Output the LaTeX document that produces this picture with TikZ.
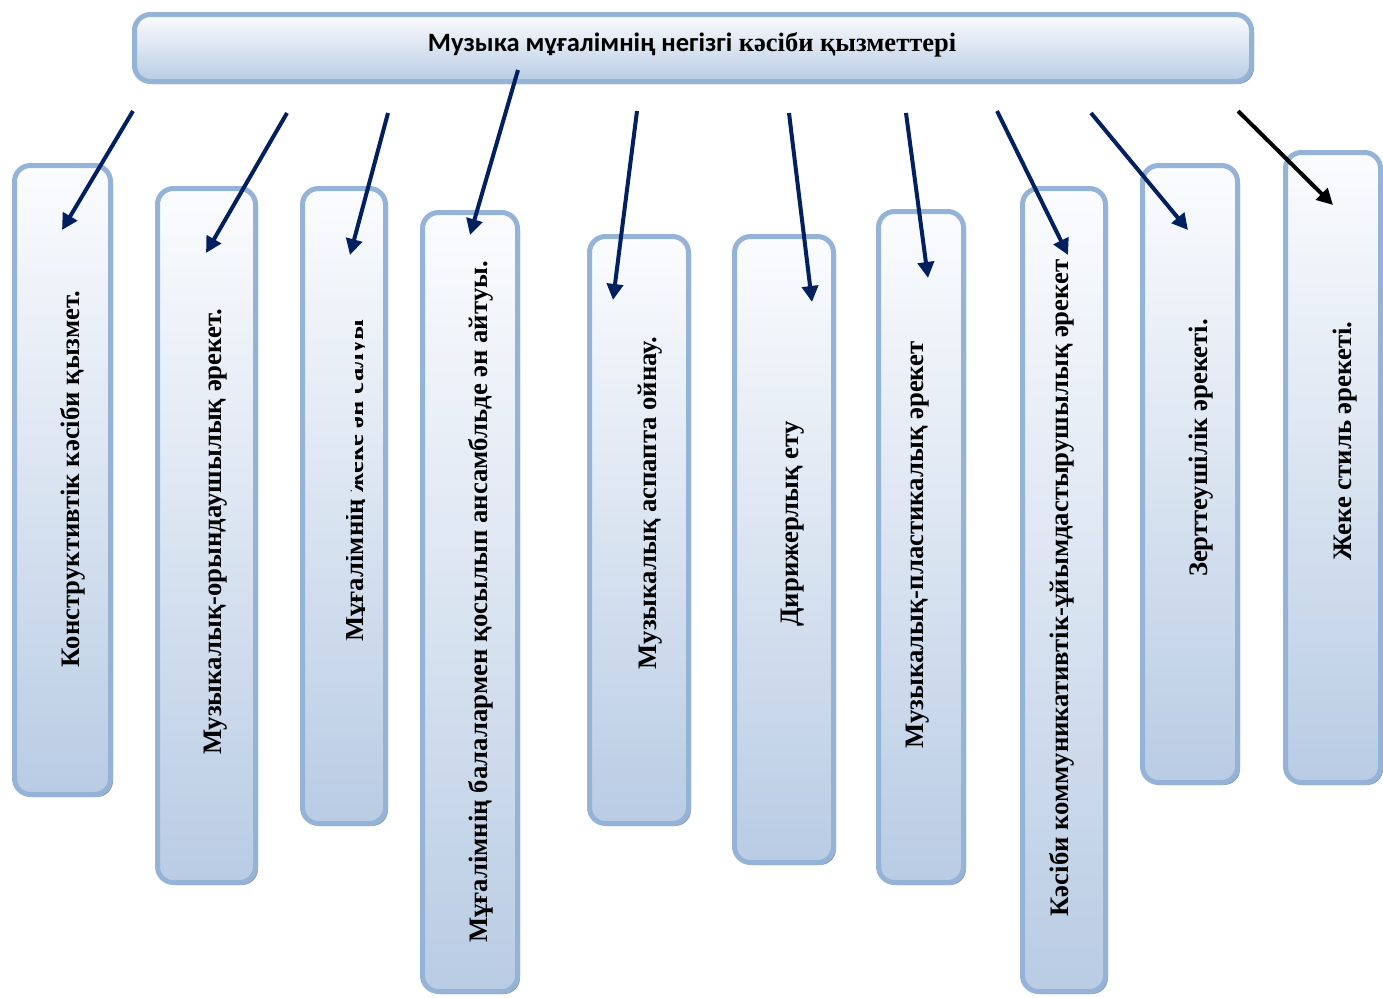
\documentclass[tikz,border=0pt]{standalone}
\usepackage{fontspec}
\setmainfont{Liberation Serif}
\newfontfamily\titlesans{Carlito}
\usetikzlibrary{arrows.meta,shadows}
\definecolor{boxline}{HTML}{95B3D7}
\definecolor{boxtop}{HTML}{FBFCFE}
\definecolor{boxbot}{HTML}{B9CCE4}
\definecolor{shadowc}{HTML}{8D9BAE}
\definecolor{navy}{RGB}{0,32,96}
\begin{document}
\begin{tikzpicture}[x=1pt,y=-1pt,
  box/.style={draw=boxline, line width=5pt, rounded corners=16pt,
    top color=boxtop, bottom color=boxbot, inner sep=0pt,
    drop shadow={shadow xshift=2.5pt, shadow yshift=-2.5pt, fill=shadowc, opacity=1}},
  vtext/.style={rotate=90, inner sep=0pt, font=\fontsize{26.7}{30}\selectfont\bfseries},
  arr/.style={line width=4pt, draw=navy, -{Triangle[length=16pt,width=16pt]}},
  arrk/.style={arr, draw=black}]
\useasboundingbox[fill=white] (0,0) rectangle (1383,997);

% top box
\node[box, minimum width=1117pt, minimum height=67pt] (top) at (693,48) {};
\node[inner sep=0pt, font=\fontsize{26.5}{30}\selectfont\bfseries] (title) at (692,45)
  {{\titlesans Музыка мұғалімнің негізгі} кәсіби қызметтері};

% boxes
\node[box, minimum width=96pt, minimum height=629pt] (b1) at (62.5,480) {};
\node[box, minimum width=98pt, minimum height=694pt] (b2) at (206.5,535.5) {};
\node[box, minimum width=83pt, minimum height=635pt] (b3) at (344,506) {};
\node[box, minimum width=95pt, minimum height=779pt] (b4) at (470,602) {};
\node[box, minimum width=99pt, minimum height=587pt] (b5) at (639,530) {};
\node[box, minimum width=99pt, minimum height=626pt] (b6) at (784,549.5) {};
\node[box, minimum width=85pt, minimum height=671pt] (b7) at (921,547) {};
\node[box, minimum width=83pt, minimum height=803pt] (b8) at (1064,590) {};
\node[box, minimum width=95pt, minimum height=617pt] (b9) at (1190,474) {};
\node[box, minimum width=95pt, minimum height=630pt] (b10) at (1333,467.5) {};

% texts
\node[vtext] (t1) at (73,479) {Конструктивтік кәсіби қызмет.};
\node[vtext] (t2) at (216,532) {Музыкалық-орындаушылық әрекет.};
\begin{scope}
  \clip (346,660) -- (364,660) -- (364,300) -- (355,300) -- (355,490) -- (346,490) -- cycle;
  \node[vtext, anchor=base west] (t3) at (363,642) {Мұғалімнің жеке ән салуы};
\end{scope}
\node[vtext] (t4) at (481,602) {Мұғалімнің балалармен қосылып ансамбльде ән айтуы.};
\node[vtext] (t5) at (650,503) {Музыкалық аспапта ойнау.};
\node[vtext] (t6) at (793,524) {Дирижерлық ету};
\node[vtext] (t7) at (918,545) {Музыкалық-пластикалық әрекет};
\node[vtext] (t8) at (1062,588) {Кәсіби коммуникативтік-ұйымдастырушылық әрекет};
\node[vtext] (t9) at (1201,448) {Зерттеушілік әрекеті.};
\node[vtext] (t10) at (1345,441) {Жеке стиль әрекеті.};

% arrow end points
\coordinate (s1) at (133,111);  \coordinate (e1) at (62,230);
\coordinate (s2) at (287,113);  \coordinate (e2) at (206,253);
\coordinate (s3) at (388,113);  \coordinate (e3) at (350,255);
\coordinate (s4) at (518,70);   \coordinate (e4) at (470,235);
\coordinate (s5) at (637,111);  \coordinate (e5) at (613,300);
\coordinate (s6) at (789,113);  \coordinate (e6) at (812,302);
\coordinate (s7) at (906,113);  \coordinate (e7) at (928,278);
\coordinate (s8) at (997,111);  \coordinate (e8) at (1068,255);
\coordinate (s9) at (1091,113); \coordinate (e9) at (1188,230);
\coordinate (s10) at (1238,111); \coordinate (e10) at (1333,205);

\foreach \i in {1,...,9} {\draw[arr] (s\i) -- (e\i);}
\draw[arrk] (s10) -- (e10);
\end{tikzpicture}
\end{document}
